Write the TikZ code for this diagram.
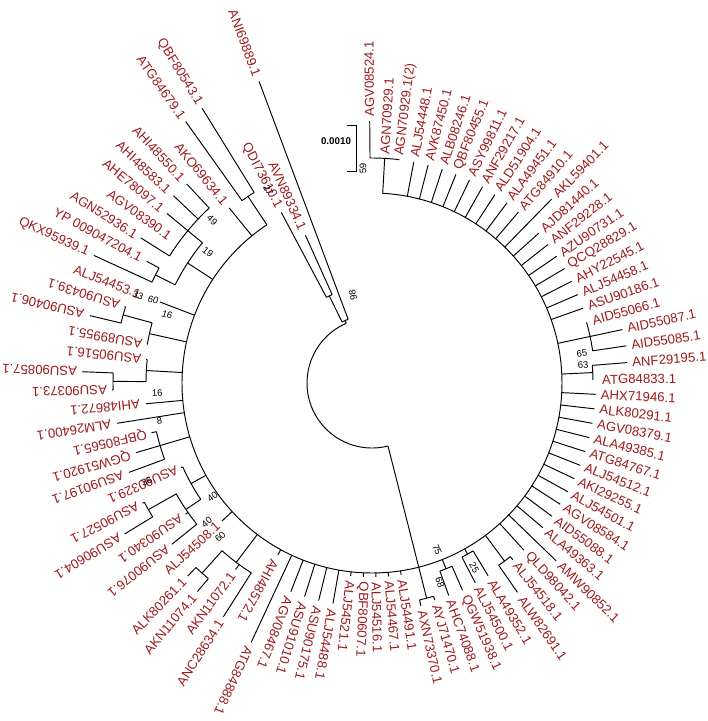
\documentclass[tikz,border=0pt]{standalone}
\usepackage{fontspec}
\setmainfont{Liberation Sans}
\definecolor{granate}{HTML}{9C1A1C}
\tikzset{
  branch/.style={line width=0.95pt},
  tip/.style={text=granate,inner sep=0pt,font=\fontsize{13.2}{14}\selectfont},
  boot/.style={inner sep=0pt,font=\fontsize{9.5}{10}\selectfont},
}
\begin{document}
\begin{tikzpicture}[x=1pt,y=-1pt]
    \useasboundingbox (-372,-383) rectangle (336,338);
    \coordinate (root) at (0,0);
    % --- raiz y tallo principal ---
    \draw[branch] (435.75:65) arc[start angle=435.75,end angle=606.674,radius=65];
    \draw[branch] (435.75:65) -- (435.75:190);
    % --- arco del clado grande ---
    \draw[branch] (273.236:190) arc[start angle=273.236,end angle=596.4,radius=190];
    % --- nodos internos: inicio/fin/radio/base del tallo ---
    \foreach \s/\e/\r/\b in {269.5/276.972/225/190, 344.22/351.692/223/190,
        355.428/359.164/221/190, 411.468/415.204/222/190, 418.94/422.676/196/190,
        426.412/430.148/200/190, 433.884/437.62/222/190, 482.452/491.792/225/190,
        489.924/493.66/255/225, 508.604/512.34/257/225, 501.132/510.472/225/207,
        505.802/516.076/207/190, 519.812/527.284/221/190, 538.492/542.228/259/226,
        540.36/545.964/226/190, 553.436/557.172/258/228, 549.7/555.304/228/190,
        564.644/568.38/242/220, 572.116/587.06/239/220, 566.512/579.588/220/190,
        594.532/598.268/224/190, 602.004/605.74/97/68, 603.872/609.476/68/65}{
      \pgfmathsetmacro\m{(\s+\e)/2}
      \draw[branch] (\m:\b) -- (\m:\r);
      \draw[branch] (\s:\r) arc[start angle=\s,end angle=\e,radius=\r];
    }
    % --- hojas: radio base/punta/etiqueta/sentido ---
    \foreach \ri/\ro/\rl/\f/\lbl [count=\k] in {
        225/262/266/0/AGV08524.1, 225/225/229/0/AGN70929.1, 225/225/229/0/AGN70929.1(2),
        190/225/230/0/ALJ54448.1, 190/225/230/0/AVK87450.1, 190/225/230/0/ALB08246.1,
        190/225/230/0/QBF80455.1, 190/225/230/0/ASY99811.1, 190/225/230/0/ANF29217.1,
        190/225/230/0/ALD51904.1, 190/225/230/0/ALA49451.1, 190/225/230/0/ATG84910.1,
        190/257/262/0/AKL59401.1, 190/224/229/0/AJD81440.1, 190/224/229/0/ANF29228.1,
        190/224/229/0/AZU90731.1, 190/224/229/0/QCQ28829.1, 190/224/229/0/AHY22545.1,
        190/224/229/0/ALJ54458.1, 190/224/229/0/ASU90186.1, 223/223/229/0/AID55066.1,
        223/256/261/0/AID55087.1, 223/257/262/0/AID55085.1, 221/256/261/0/ANF29195.1,
        221/221/230/0/ATG84833.1, 190/224/229/0/AHX71946.1, 190/224/229/0/ALK80291.1,
        190/224/229/0/AGV08379.1, 190/224/229/0/ALA49385.1, 190/224/229/0/ATG84767.1,
        190/224/229/0/ALJ54512.1, 190/224/229/0/AKI29255.1, 190/224/229/0/ALJ54501.1,
        190/224/229/0/AGV08584.1, 190/224/229/0/AID55088.1, 190/224/229/0/ALA49363.1,
        190/256/261/0/AMW90852.1, 190/226/231/0/QLD98042.1, 222/226/231/0/ALJ54518.1,
        222/255/261/0/ALW82691.1, 196/225/231/0/ALA49352.1, 196/225/230/0/ALJ54500.1,
        200/226/232/0/QGW51938.1, 200/226/231/0/AHC74088.1, 222/226/231/0/AYJ71470.1,
        222/228/233/0/AXN73370.1, 190/194/199/0/ALJ54491.1, 190/194/199/0/ALJ54467.1,
        190/194/199/0/ALJ54516.1, 190/194/199/0/QBF80607.1, 190/194/199/0/ALJ54521.1,
        190/224/230/0/ALJ54488.1, 190/224/230/0/ASU90175.1, 190/224/230/0/ASU91010.1,
        190/224/230/0/AGV08467.1, 190/286/291/0/ATG84888.1, 190/196/202/0/AHI48572.1,
        225/277/282/1/ANC28634.1, 225/231/236/1/AKN11072.1, 255/272/277/1/AKN11074.1,
        255/267/272/1/ALK80261.1, 190/204/209/1/ALJ54508.1, 225/257/262/0/ASU90076.1,
        225/228/233/0/ASU90340.1, 257/290/295/0/ASU90604.1, 257/259/264/0/ASU90527.1,
        207/209/213/0/ASU90329.1, 221/259/265/0/ASU90197.1, 221/246/252/0/QGW51920.1,
        221/226/231/0/QBF80565.1, 190/258/264/0/ALM26400.1, 190/227/233/0/AHI48672.1,
        259/260/265/0/ASU90373.1, 259/290/295/0/ASU90857.1, 226/227/232/0/ASU90516.1,
        228/228/233/0/ASU89955.1, 258/290/296/0/ASU90406.1, 258/259/264/0/ASU90439.1,
        190/227/248/1/ALJ54453.1, 242/306/312/1/QKX95939.1, 242/256/262/1/YP 009047204.1,
        239/273/278/1/AGN52936.1, 239/239/249/1/AGV08390.1, 239/266/272/1/AHE78097.1,
        239/273/279/1/AHI48583.1, 239/272/278/1/AHI48550.1, 190/226/232/1/AKO69634.1,
        224/321/326/1/ATG84679.1, 224/323/328/1/QBF80543.1, 97/193/199/1/QDI73610.1,
        97/162/168/1/AVN89334.1, 68/322/328/1/ANI69889.1}{
      \pgfmathsetmacro\ang{269.5+(\k-1)*3.736}
      \pgfmathsetmacro\rot{180*\f-\ang}
      \ifnum\f=0 \def\anc{west}\else\def\anc{east}\fi
      \draw[branch] (\ang:\ri) -- (\ang:\ro);
      \node[tip,rotate=\rot,anchor=\anc] (tip\k) at (\ang:\rl) {\lbl};
    }
    % --- valores bootstrap ---
    \foreach \ang/\r/\rot/\v [count=\j] in {267.6/215/92.4/59, 257.8/90/102.2/98,
        241.7/219/-61.7/27, 225.5/228/-45.5/49, 218.6/210/-38.6/19, 200.6/250/-20.6/33,
        200.8/234/-20.8/60, 198.4/216/-18.4/16, 177.3/215/2.7/16, 169.8/216/10.2/8,
        156.3/246/23.7/36, 144.5/196/35.5/40, 139.9/216/40.1/40, 134.6/216/45.4/60,
        68.7/179/-68.7/75, 71.2/211/-71.2/68, 61/211/-61/25, 351.9/212/8.1/65,
        355.1/212/4.9/63}{
      \node[boot,rotate=\rot] (bs\j) at (\ang:\r) {\v};
    }
    % --- barra de escala ---
    \draw[branch] (-25.3,-258) -- (-15.3,-258) -- (-15.3,-211.3) -- (-25.3,-211.3);
    \node[inner sep=0pt,font=\bfseries\fontsize{9.8}{10}\selectfont] (escala) at (-36,-242) {0.0010};
\end{tikzpicture}
\end{document}
